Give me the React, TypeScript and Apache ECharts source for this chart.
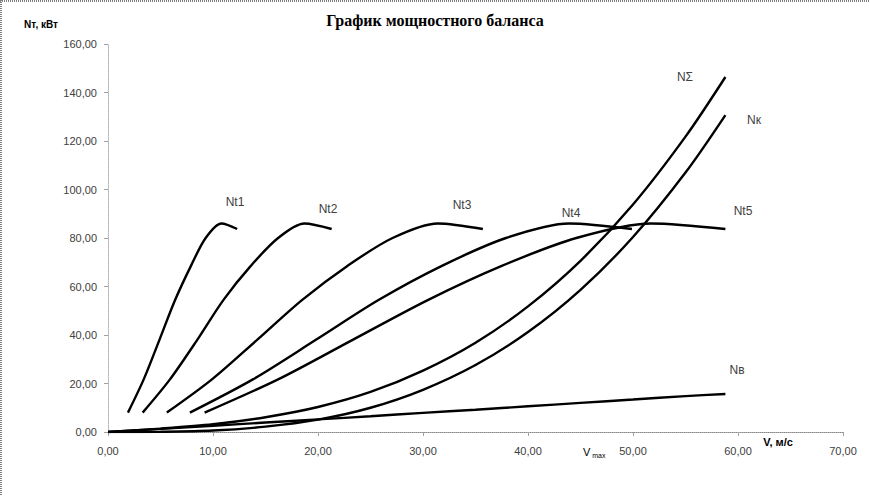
import React, { useEffect, useRef } from "react";
import * as echarts from "echarts";

// Engine (traction) power values at each engine-speed step, kW
const ntPower = [8.0, 21.7, 38.0, 54.5, 68.5, 80.0, 86.0, 83.7];
// Vehicle speed for each gear at those engine-speed steps, m/s
const v1 = [1.9, 3.4, 4.9, 6.4, 7.9, 9.3, 10.8, 12.3];
const v2 = [3.3, 5.9, 8.5, 11.0, 13.6, 16.2, 18.7, 21.3];
const v3 = [5.6, 9.9, 14.2, 18.5, 22.8, 27.1, 31.4, 35.7];
const v4 = [7.8, 13.8, 19.8, 25.8, 31.8, 37.9, 43.9, 49.9];
const v5 = [9.2, 16.2, 23.3, 30.5, 37.5, 44.6, 51.7, 58.8];

// Resistance powers
const vRes = [0, 5, 10, 15, 20, 25, 30, 35, 40, 45, 50, 55, 58.8];
const nV = [0, 1.3, 2.6, 3.9, 5.2, 6.5, 7.9, 9.2, 10.6, 12.0, 13.4, 14.8, 15.7];
const nK = [0, 0.1, 0.6, 2.2, 5.1, 10.0, 17.4, 27.6, 41.2, 58.6, 80.4, 107.0, 130.7];
const nSum = [0, 1.4, 3.2, 6.1, 10.3, 16.5, 25.3, 36.8, 51.8, 70.6, 93.8, 121.8, 146.4];

const xTicks = { min: 0, max: 70, step: 10 };
const yTicks = { min: 0, max: 160, step: 20 };

const zip = (xs: number[], ys: number[]) => xs.map((x, i) => [x, ys[i]]);
const fmt = (v: number) => v.toFixed(2).replace(".", ",");

export default function App() {
  const ref = useRef<HTMLDivElement>(null);
  useEffect(() => {
    if (!ref.current) return;
    const chart = echarts.init(ref.current, null, { renderer: "svg" });
    const lineSeries = (name: string, data: number[][], smooth: number | boolean) => ({
      name,
      type: "line",
      data,
      smooth,
      showSymbol: false,
      symbol: "none",
      lineStyle: { color: "#000", width: 2.4 },
      z: 3,
    });
    const labelFont = "12px 'Liberation Sans', Arial, sans-serif";
    const txt = (text: string, x: number, y: number, font = labelFont, fill = "#404040") => ({
      type: "text",
      x,
      y,
      style: {
        text,
        font,
        fill,
        textAlign: "center",
        textVerticalAlign: "middle",
        align: "center",
        verticalAlign: "middle",
      },
    });
    chart.setOption({
      animation: false,
      backgroundColor: "#ffffff",
      grid: { left: 108, top: 44, right: 27, bottom: 64 },
      xAxis: {
        type: "value",
        min: xTicks.min,
        max: xTicks.max,
        interval: xTicks.step,
        axisLine: { show: true, lineStyle: { color: "#868686", type: "dotted", width: 1 } },
        axisTick: { show: true, length: 4, lineStyle: { color: "#a0a0a0" } },
        splitLine: { show: false },
        axisLabel: {
          formatter: fmt,
          color: "#404040",
          fontSize: 11,
          fontFamily: "'Liberation Sans', Arial, sans-serif",
          margin: 13,
        },
      },
      yAxis: {
        type: "value",
        min: yTicks.min,
        max: yTicks.max,
        interval: yTicks.step,
        axisLine: { show: true, lineStyle: { color: "#b0b0b0", type: "dotted", width: 1 } },
        axisTick: { show: true, length: 4, lineStyle: { color: "#a0a0a0" } },
        splitLine: { show: false },
        axisLabel: {
          formatter: fmt,
          color: "#404040",
          fontSize: 11,
          fontFamily: "'Liberation Sans', Arial, sans-serif",
          margin: 11,
        },
      },
      series: [
        lineSeries("Nt1", zip(v1, ntPower), 0.3),
        lineSeries("Nt2", zip(v2, ntPower), 0.3),
        lineSeries("Nt3", zip(v3, ntPower), 0.3),
        lineSeries("Nt4", zip(v4, ntPower), 0.3),
        lineSeries("Nt5", zip(v5, ntPower), 0.3),
        lineSeries("Nв", zip(vRes, nV), 0.3),
        lineSeries("Nк", zip(vRes, nK), 0.3),
        lineSeries("NΣ", zip(vRes, nSum), 0.3),
      ],
      graphic: [
        {
          type: "line",
          shape: { x1: 0, y1: 1, x2: 870, y2: 1 },
          style: { stroke: "#808080", lineWidth: 2, lineDash: [1, 1] },
        },
        {
          type: "line",
          shape: { x1: 1, y1: 0, x2: 1, y2: 496 },
          style: { stroke: "#808080", lineWidth: 2, lineDash: [1, 1] },
        },
        txt(
          "График мощностного баланса",
          435,
          20,
          "bold 16px 'Liberation Serif', 'Times New Roman', serif",
          "#000"
        ),
        txt("Nт, кВт", 41, 24, "bold 10px 'Liberation Sans', Arial, sans-serif", "#000"),
        txt("V, м/с", 778, 442, "bold 11px 'Liberation Sans', Arial, sans-serif", "#000"),
        txt("Nt1", 235, 202),
        txt("Nt2", 328, 209),
        txt("Nt3", 462, 205),
        txt("Nt4", 571, 213),
        txt("Nt5", 743, 211),
        txt("Nв", 737, 370),
        txt("NΣ", 685, 77),
        txt("Nк", 754, 120),
        {
          type: "text",
          x: 583,
          y: 452,
          style: {
            text: "{a|V}{b| max}",
            rich: {
              a: { fontSize: 11, fontFamily: "'Liberation Sans', Arial, sans-serif", color: "#404040" },
              b: {
                fontSize: 7,
                fontFamily: "'Liberation Sans', Arial, sans-serif",
                color: "#404040",
                padding: [6, 0, 0, 0],
              },
            },
            textVerticalAlign: "middle",
            verticalAlign: "middle",
          },
        },
      ],
    });
    return () => chart.dispose();
  }, []);
  return (
    <div
      ref={ref}
      style={{ position: "fixed", left: 0, top: 0, width: 870, height: 496, background: "#fff" }}
    />
  );
}
